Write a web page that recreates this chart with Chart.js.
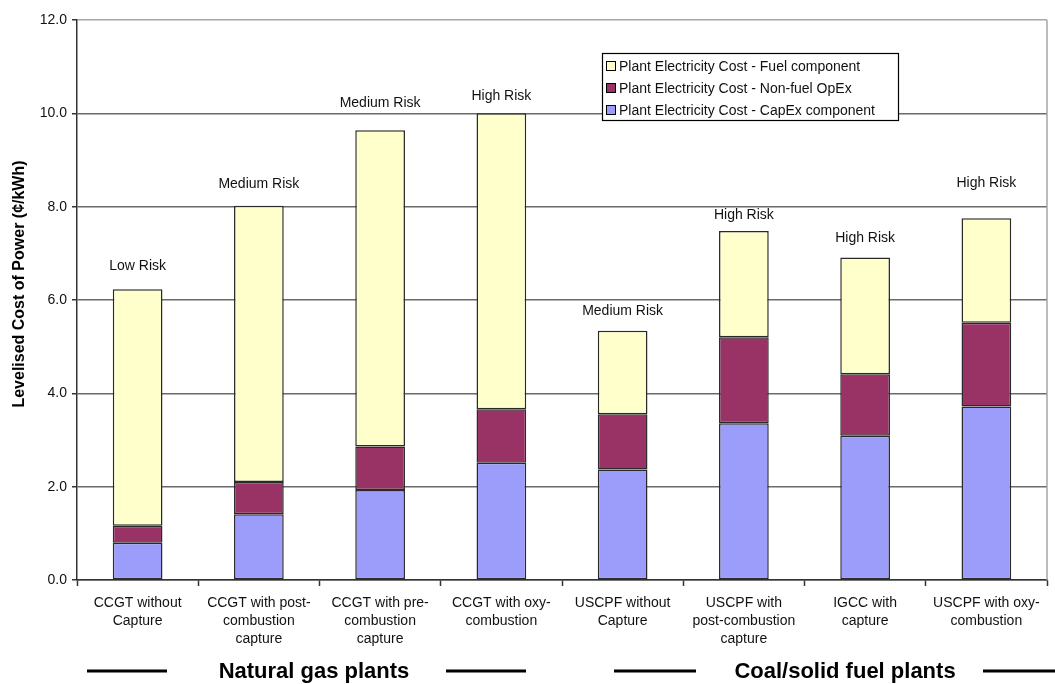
<!DOCTYPE html>
<html>
<head>
<meta charset="utf-8">
<title>Levelised Cost of Power</title>
<script src="https://cdn.jsdelivr.net/npm/chart.js@4.4.1/dist/chart.umd.min.js"></script>
<style>
  html, body { margin: 0; padding: 0; background: #ffffff; }
  canvas { display: block; }
</style>
</head>
<body>
<canvas id="chart" width="1055" height="684"></canvas>
<script>
// Plant types along the category axis
const categories = [
  ["CCGT without", "Capture"],
  ["CCGT with post-", "combustion", "capture"],
  ["CCGT with pre-", "combustion", "capture"],
  ["CCGT with oxy-", "combustion"],
  ["USCPF without", "Capture"],
  ["USCPF with", "post-combustion", "capture"],
  ["IGCC with", "capture"],
  ["USCPF with oxy-", "combustion"]
];

// Cost components, ¢/kWh (stacked bottom to top)
const capexComponent = [0.80, 1.41, 1.93, 2.51, 2.37, 3.36, 3.09, 3.72];
const nonFuelOpex    = [0.36, 0.69, 0.93, 1.15, 1.18, 1.84, 1.32, 1.79];
const fuelComponent  = [5.07, 5.92, 6.78, 6.34, 1.79, 2.28, 2.50, 2.24];

// Risk rating written above each bar
const riskLabels = ["Low Risk", "Medium Risk", "Medium Risk", "High Risk",
                    "Medium Risk", "High Risk", "High Risk", "High Risk"];

// Y axis tick values
const yTicks = [0, 2, 4, 6, 8, 10, 12];

const FONT = "'Liberation Sans', Arial, sans-serif";

// Gap (px) between bar top and the centre of its risk label
const riskLabelGap = [23, 22, 27, 17, 20, 16, 19, 35];

const whiteBackground = {
  id: 'whiteBackground',
  beforeDraw(chart) {
    const c = chart.ctx;
    c.save();
    c.fillStyle = '#ffffff';
    c.fillRect(0, 0, chart.width, chart.height);
    c.restore();
  }
};

const plotFrame = {
  id: 'plotFrame',
  beforeDatasetsDraw(chart) {
    const { ctx: c, chartArea: a } = chart;
    c.save();
    c.strokeStyle = '#a6a6a6';
    c.lineWidth = 1.5;
    c.beginPath();
    c.moveTo(a.right, a.top);
    c.lineTo(a.right, a.bottom);
    c.stroke();
    c.restore();
  }
};

const riskText = {
  id: 'riskText',
  afterDatasetsDraw(chart) {
    const c = chart.ctx;
    const xs = chart.scales.x, ys = chart.scales.y;
    c.save();
    c.font = '14px ' + FONT;
    c.fillStyle = '#111111';
    c.textAlign = 'center';
    c.textBaseline = 'middle';
    riskLabels.forEach((txt, i) => {
      const total = chart.data.datasets.reduce((s, d) => s + d.data[i], 0);
      c.fillText(txt, xs.getPixelForValue(i), ys.getPixelForValue(total) - riskLabelGap[i]);
    });
    c.restore();
  }
};

const boxLegend = {
  id: 'boxLegend',
  afterDraw(chart) {
    const c = chart.ctx;
    const x = 602.5, y = 53.5, w = 296, h = 67;
    c.save();
    c.fillStyle = '#ffffff';
    c.fillRect(x, y, w, h);
    c.strokeStyle = '#000000';
    c.lineWidth = 1.2;
    c.strokeRect(x, y, w, h);
    c.font = '14px ' + FONT;
    c.textBaseline = 'middle';
    const items = chart.data.datasets.slice().reverse();
    items.forEach((ds, k) => {
      const cy = 66 + k * 22;
      c.fillStyle = ds.backgroundColor;
      c.fillRect(606.5, cy - 4.5, 9, 9);
      c.strokeStyle = '#000000';
      c.lineWidth = 1;
      c.strokeRect(606.5, cy - 4.5, 9, 9);
      c.fillStyle = '#111111';
      c.fillText(ds.label, 619, cy + 1);
    });
    c.restore();
  }
};

const axisTitles = {
  id: 'axisTitles',
  afterDraw(chart) {
    const c = chart.ctx;
    c.save();
    // Y axis title
    c.translate(20, 284);
    c.rotate(-Math.PI / 2);
    c.font = 'bold 16px ' + FONT;
    c.fillStyle = '#000000';
    c.textAlign = 'center';
    c.textBaseline = 'middle';
    c.fillText('Levelised Cost of Power (¢/kWh)', 0, 0);
    c.restore();

    // Plant group captions with rules either side
    c.save();
    c.font = 'bold 22px ' + FONT;
    c.fillStyle = '#000000';
    c.textAlign = 'center';
    c.textBaseline = 'middle';
    c.fillText('Natural gas plants', 314, 672);
    c.fillText('Coal/solid fuel plants', 845, 672);
    c.strokeStyle = '#000000';
    c.lineWidth = 3;
    [[87, 167], [446, 526], [614, 696], [983, 1055]].forEach(([a, b]) => {
      c.beginPath();
      c.moveTo(a, 671);
      c.lineTo(b, 671);
      c.stroke();
    });
    c.restore();
  }
};

const barStyle = { borderColor: '#2a2a2a', borderWidth: 1.5, borderSkipped: false };

new Chart(document.getElementById('chart'), {
  type: 'bar',
  data: {
    labels: categories,
    datasets: [
      Object.assign({
        label: 'Plant Electricity Cost - CapEx component',
        data: capexComponent,
        backgroundColor: '#9c9cfa'
      }, barStyle),
      Object.assign({
        label: 'Plant Electricity Cost - Non-fuel OpEx',
        data: nonFuelOpex,
        backgroundColor: '#993366'
      }, barStyle),
      Object.assign({
        label: 'Plant Electricity Cost - Fuel component',
        data: fuelComponent,
        backgroundColor: '#ffffcc'
      }, barStyle)
    ]
  },
  options: {
    responsive: false,
    animation: false,
    devicePixelRatio: 1,
    layout: { padding: { left: 0, top: 20, right: 8, bottom: 0 } },
    datasets: { bar: { barPercentage: 0.41, categoryPercentage: 1.0 } },
    plugins: {
      legend: { display: false },
      tooltip: { enabled: false },
      title: { display: false }
    },
    scales: {
      x: {
        stacked: true,
        afterFit(s) { s.height = 104; },
        grid: {
          drawOnChartArea: false,
          drawTicks: true,
          tickLength: 6,
          tickColor: '#333333',
          tickWidth: 1.5,
          offset: true
        },
        border: { color: '#333333', width: 1.5 },
        ticks: {
          autoSkip: false,
          maxRotation: 0,
          minRotation: 0,
          padding: 8,
          color: '#111111',
          font: { family: FONT, size: 14, lineHeight: 1.3 }
        }
      },
      y: {
        stacked: true,
        min: 0,
        max: 12,
        afterFit(s) { s.width = 77; },
        afterBuildTicks(s) { s.ticks = yTicks.map(v => ({ value: v })); },
        grid: {
          color: (ctx) => (ctx.tick && ctx.tick.value === 12 ? '#a6a6a6' : '#6a6a6a'),
          lineWidth: 1.5,
          tickColor: '#333333',
          tickLength: 5,
          drawTicks: true
        },
        border: { color: '#333333', width: 1.5 },
        ticks: {
          padding: 5,
          color: '#111111',
          font: { family: FONT, size: 14 },
          callback: (v) => Number(v).toFixed(1)
        }
      }
    }
  },
  plugins: [whiteBackground, plotFrame, riskText, boxLegend, axisTitles]
});
</script>
</body>
</html>
